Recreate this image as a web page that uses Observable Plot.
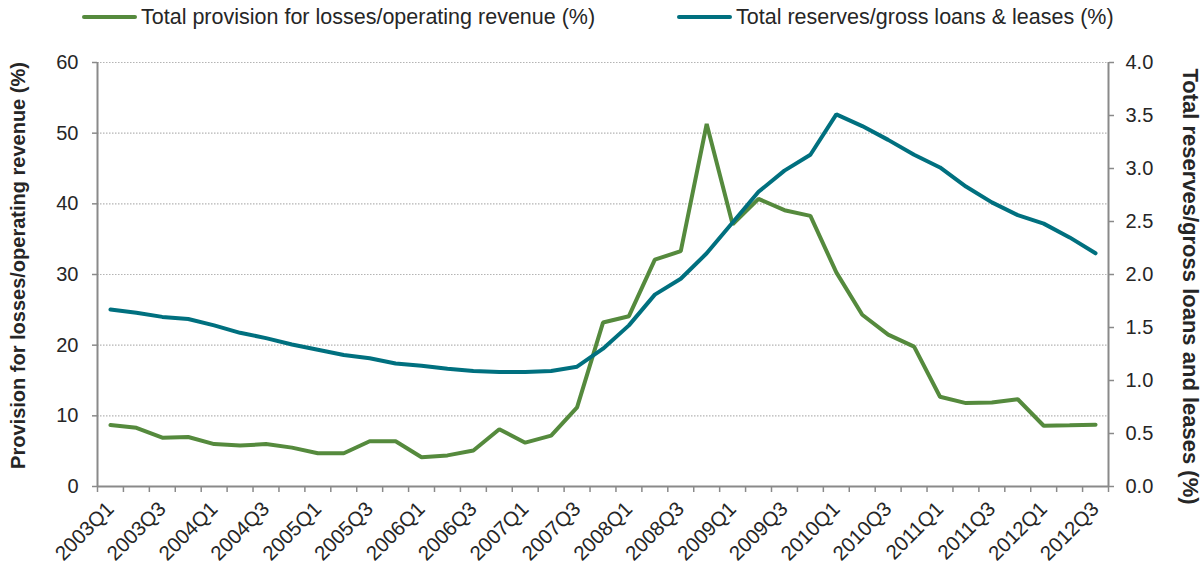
<!DOCTYPE html>
<html>
<head>
<meta charset="utf-8">
<script src="https://cdn.jsdelivr.net/npm/d3@7"></script>
<script src="https://cdn.jsdelivr.net/npm/@observablehq/plot@0.6"></script>
<style>
  html, body { margin: 0; padding: 0; background: #fff; }
  body { width: 1204px; height: 568px; overflow: hidden; font-family: "Liberation Sans", Arial, sans-serif; }
  #legend { position: relative; height: 36px; width: 1204px; font-size: 21.5px; color: #262626; }
  .item { position: absolute; top: 4px; display: flex; align-items: center; height: 26px; white-space: nowrap; }
  .sw { display: inline-block; width: 55px; height: 4px; border-radius: 2px; margin-right: 4px; }
</style>
</head>
<body>
<div id="legend"></div>
<div id="chart"></div>
<script>
const quarters = [
  "2003Q1","2003Q2","2003Q3","2003Q4","2004Q1","2004Q2","2004Q3","2004Q4",
  "2005Q1","2005Q2","2005Q3","2005Q4","2006Q1","2006Q2","2006Q3","2006Q4",
  "2007Q1","2007Q2","2007Q3","2007Q4","2008Q1","2008Q2","2008Q3","2008Q4",
  "2009Q1","2009Q2","2009Q3","2009Q4","2010Q1","2010Q2","2010Q3","2010Q4",
  "2011Q1","2011Q2","2011Q3","2011Q4","2012Q1","2012Q2","2012Q3"
];
const provision = [8.7, 8.3, 6.9, 7.0, 6.0, 5.8, 6.0, 5.5, 4.7, 4.7, 6.4, 6.4, 4.15, 4.4, 5.1, 8.1,
  6.2, 7.2, 11.2, 23.2, 24.1, 32.1, 33.3, 51.3, 37.1, 40.7, 39.1, 38.3, 30.3, 24.3, 21.5, 19.8,
  12.7, 11.8, 11.9, 12.35, 8.6, 8.65, 8.75];
const reserves = [1.67, 1.64, 1.60, 1.58, 1.52, 1.45, 1.40, 1.34, 1.29, 1.24, 1.21, 1.16, 1.14, 1.11, 1.09, 1.08,
  1.08, 1.09, 1.13, 1.30, 1.52, 1.81, 1.96, 2.20, 2.49, 2.78, 2.98, 3.13, 3.51, 3.40, 3.27, 3.13,
  3.01, 2.83, 2.68, 2.56, 2.48, 2.35, 2.20];
const leftTicks = [0, 10, 20, 30, 40, 50, 60];
const rightTicks = [0, 0.5, 1, 1.5, 2, 2.5, 3, 3.5, 4];
const seriesNames = ["Total provision for losses/operating revenue (%)", "Total reserves/gross loans & leases (%)"];
const leftTitle = "Provision for losses/operating revenue (%)";
const rightTitle = "Total reserves/gross loans and leases (%)";
const colors = ["#558a3d", "#00707f"];

const ratio = 60 / 4; // right axis 0–4 mapped onto left 0–60

const provData = quarters.map((q, i) => ({i, q, v: provision[i]}));
const resData = quarters.map((q, i) => ({i, q, v: reserves[i] * ratio}));

// legend
const legend = document.getElementById("legend");
const lefts = [82, 677];
seriesNames.forEach((name, k) => {
  const it = document.createElement("div");
  it.className = "item";
  it.style.left = lefts[k] + "px";
  it.innerHTML = `<span class="sw" style="background:${colors[k]}"></span><span>${name}</span>`;
  legend.appendChild(it);
});

const font = "'Liberation Sans', Arial, sans-serif";
const axisColor = "#8a8a8a";
const textColor = "#262626";

const chart = Plot.plot({
  width: 1204,
  height: 532,
  marginLeft: 97,
  marginRight: 96,
  marginTop: 26,
  marginBottom: 82,
  style: {fontFamily: font, fontSize: "20px", color: textColor, background: "#fff", overflow: "visible"},
  x: {type: "linear", domain: [-0.5, quarters.length - 0.5], axis: null},
  y: {domain: [0, 60], axis: null},
  marks: [
    Plot.ruleY(leftTicks.filter(d => d > 0), {stroke: "#b4b4b4", strokeWidth: 1.2, strokeDasharray: "1.5,1.5"}),
    Plot.axisY({anchor: "left", ticks: leftTicks, tickSize: 5, tickPadding: 14, fontSize: 20, label: null, stroke: axisColor, strokeWidth: 1.5, fill: textColor}),
    Plot.axisY({anchor: "right", ticks: rightTicks.map(d => d * ratio), tickFormat: d => (d / ratio).toFixed(1), tickSize: 5, tickPadding: 12, fontSize: 20, label: null, stroke: axisColor, strokeWidth: 1.5, fill: textColor}),
    Plot.axisX({ticks: d3.range(-0.5, quarters.length, 1), tickFormat: () => "", tickSize: 6, label: null, stroke: axisColor, strokeWidth: 1.5}),
    Plot.axisX({ticks: quarters.map((q, i) => i).filter(i => i % 2 === 0), tickFormat: i => quarters[i], tickSize: 0, tickPadding: 19, tickRotate: -45, fontSize: 20.5, label: null, fill: textColor}),
    Plot.ruleX([-0.5, quarters.length - 0.5], {stroke: axisColor, strokeWidth: 2}),
    Plot.ruleY([0], {stroke: axisColor, strokeWidth: 2}),
    Plot.line(provData, {x: "i", y: "v", stroke: colors[0], strokeWidth: 4, strokeLinejoin: "miter", strokeLinecap: "round"}),
    Plot.line(resData, {x: "i", y: "v", stroke: colors[1], strokeWidth: 4, strokeLinejoin: "miter", strokeLinecap: "round"}),
    Plot.text([leftTitle], {text: d => d, frameAnchor: "left", textAnchor: "middle", rotate: -90, dx: -79, dy: -9, fontSize: 20, fontWeight: "bold", fill: textColor}),
    Plot.text([rightTitle], {text: d => d, frameAnchor: "right", textAnchor: "middle", rotate: 90, dx: 82, dy: 12, fontSize: 22, fontWeight: "bold", fill: textColor})
  ]
});
document.getElementById("chart").appendChild(chart);
</script>
</body>
</html>
